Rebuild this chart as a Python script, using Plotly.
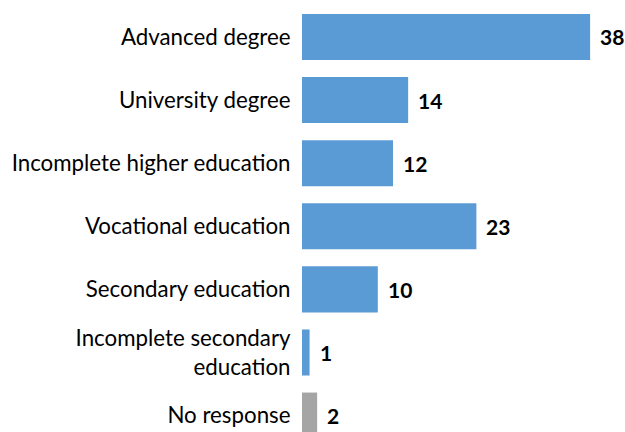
import plotly.graph_objects as go

categories = [
    "Advanced degree",
    "University degree",
    "Incomplete higher education",
    "Vocational education",
    "Secondary education",
    "Incomplete secondary<br>education",
    "No response",
]
values = [38, 14, 12, 23, 10, 1, 2]
bar_colors = ["#5B9BD5"] * 6 + ["#A5A5A5"]

FONT = "Lato"

fig = go.Figure(
    go.Bar(
        x=values,
        y=categories,
        orientation="h",
        marker=dict(color=bar_colors, line=dict(width=0)),
        hoverinfo="skip",
    )
)

# value labels just past the end of each bar
for cat, v in zip(categories, values):
    fig.add_annotation(
        x=v, y=cat, text=f"<b>{v}</b>", showarrow=False,
        xanchor="left", yanchor="middle", xshift=8,
        font=dict(family=FONT, size=21, color="#000000"),
    )

fig.update_layout(
    width=625, height=432,
    margin=dict(l=302, r=0, t=0, b=0),
    paper_bgcolor="white", plot_bgcolor="white",
    bargap=0.27,
    showlegend=False,
    xaxis=dict(range=[0, 42.6], visible=False, fixedrange=True),
    yaxis=dict(
        categoryorder="array", categoryarray=categories,
        range=[6.26, -0.586],
        showline=False, showgrid=False, zeroline=False,
        ticks="outside", ticklen=6, tickcolor="rgba(0,0,0,0)",
        tickfont=dict(family=FONT, size=22.3, color="#000000"),
        automargin=False,
    ),
)

fig.write_html("out.html")
